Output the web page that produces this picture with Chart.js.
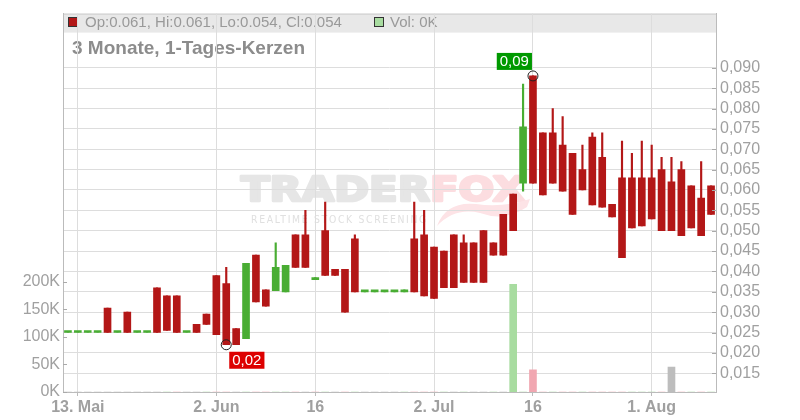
<!DOCTYPE html>
<html>
<head>
<meta charset="utf-8">
<script src="https://cdn.jsdelivr.net/npm/chart.js@4.4.0/dist/chart.umd.min.js"></script>
<style>
    body { margin: 0; background: #fff; }
    #wrap { width: 800px; height: 420px; }
</style>
</head>
<body>
<div id="wrap"><canvas id="chart"></canvas></div>
<script>
// Handelstage (12.05. - 11.08.)
const dates = [
    '12.05.', '13.05.', '14.05.', '15.05.', '16.05.', '19.05.', '20.05.', '21.05.', '22.05.', '23.05.',
    '26.05.', '27.05.', '28.05.', '29.05.', '30.05.', '02.06.', '03.06.', '04.06.', '05.06.', '06.06.',
    '09.06.', '10.06.', '11.06.', '12.06.', '13.06.', '16.06.', '17.06.', '18.06.', '19.06.', '20.06.',
    '23.06.', '24.06.', '25.06.', '26.06.', '27.06.', '30.06.', '01.07.', '02.07.', '03.07.', '04.07.',
    '07.07.', '08.07.', '09.07.', '10.07.', '11.07.', '14.07.', '15.07.', '16.07.', '17.07.', '18.07.',
    '21.07.', '22.07.', '23.07.', '24.07.', '25.07.', '28.07.', '29.07.', '30.07.', '31.07.', '01.08.',
    '04.08.', '05.08.', '06.08.', '07.08.', '08.08.', '11.08.'
];
const opens = [
    0.025, 0.025, 0.025, 0.025, 0.031, 0.025, 0.030, 0.025, 0.025, 0.036,
    0.034, 0.034, 0.025, 0.027, 0.0295, 0.039, 0.037, 0.026, 0.0235, 0.044,
    0.0355, 0.0353, 0.035, 0.049, 0.049, 0.038, 0.050, 0.0405, 0.0405, 0.048,
    0.035, 0.035, 0.035, 0.035, 0.035, 0.048, 0.049, 0.046, 0.045, 0.049,
    0.047, 0.047, 0.050, 0.047, 0.054, 0.059, 0.0617, 0.088, 0.074, 0.074,
    0.071, 0.069, 0.065, 0.073, 0.068, 0.0565, 0.063, 0.063, 0.063, 0.063,
    0.065, 0.062, 0.065, 0.061, 0.058, 0.061
];
const highs = [
    0.025, 0.025, 0.025, 0.025, 0.031, 0.025, 0.030, 0.025, 0.025, 0.036,
    0.034, 0.034, 0.025, 0.027, 0.0295, 0.039, 0.041, 0.026, 0.042, 0.044,
    0.0355, 0.047, 0.0415, 0.049, 0.055, 0.0385, 0.057, 0.0405, 0.0405, 0.049,
    0.035, 0.035, 0.035, 0.035, 0.0355, 0.057, 0.055, 0.046, 0.045, 0.049,
    0.049, 0.047, 0.050, 0.047, 0.054, 0.059, 0.086, 0.088, 0.074, 0.080,
    0.078, 0.069, 0.071, 0.074, 0.074, 0.0565, 0.072, 0.069, 0.072, 0.071,
    0.068, 0.068, 0.067, 0.061, 0.067, 0.061
];
const lows = [
    0.025, 0.025, 0.025, 0.025, 0.025, 0.025, 0.025, 0.025, 0.025, 0.025,
    0.0255, 0.025, 0.025, 0.025, 0.027, 0.0245, 0.022, 0.022, 0.0235, 0.0325,
    0.0315, 0.0353, 0.035, 0.041, 0.041, 0.038, 0.039, 0.039, 0.030, 0.035,
    0.035, 0.035, 0.035, 0.035, 0.035, 0.035, 0.034, 0.0334, 0.036, 0.036,
    0.0373, 0.0373, 0.0373, 0.044, 0.044, 0.050, 0.0597, 0.0617, 0.0588, 0.0617,
    0.0597, 0.054, 0.060, 0.0563, 0.0558, 0.0534, 0.0434, 0.0507, 0.0512, 0.0529,
    0.050, 0.050, 0.0488, 0.0507, 0.0488, 0.054
];
const closes = [
    0.025, 0.025, 0.025, 0.025, 0.025, 0.025, 0.025, 0.025, 0.025, 0.025,
    0.0255, 0.025, 0.025, 0.025, 0.027, 0.0245, 0.022, 0.022, 0.042, 0.0325,
    0.0315, 0.041, 0.0415, 0.041, 0.041, 0.0385, 0.039, 0.039, 0.030, 0.035,
    0.035, 0.035, 0.035, 0.035, 0.0355, 0.035, 0.034, 0.0334, 0.036, 0.036,
    0.0373, 0.0373, 0.0373, 0.044, 0.044, 0.050, 0.0755, 0.0617, 0.0588, 0.0617,
    0.0597, 0.054, 0.060, 0.0563, 0.0558, 0.0534, 0.0434, 0.0507, 0.0512, 0.0529,
    0.050, 0.050, 0.0488, 0.0507, 0.0488, 0.054
];
const volumes = [
    0, 0, 0, 0, 0, 0, 0, 0, 0, 0,
    0, 0, 0, 0, 0, 0, 0, 0, 0, 0,
    0, 0, 0, 0, 0, 0, 0, 0, 0, 0,
    0, 0, 0, 0, 0, 0, 0, 0, 0, 0,
    0, 0, 0, 0, 0, 195000, 0, 40000, 0, 0,
    0, 0, 0, 0, 0, 0, 0, 0, 0, 0,
    0, 45000, 0, 0, 0, 0
];

// Achsenbeschriftung
const tickDates = ['13.05.', '02.06.', '16.06.', '02.07.', '16.07.', '01.08.'];
const tickLabels = ['13. Mai', '2. Jun', '16', '2. Jul', '16', '1. Aug'];
const priceTicks = [0.015, 0.020, 0.025, 0.030, 0.035, 0.040, 0.045, 0.050, 0.055,
    0.060, 0.065, 0.070, 0.075, 0.080, 0.085, 0.090];
const volumeTicks = [0, 50000, 100000, 150000, 200000];

const RED = '#b31717';
const GREEN = '#49ad33';

const candleColors = opens.map((o, i) => closes[i] >= o ? GREEN : RED);
const volumeColors = closes.map((c, i) => {
    if (i === 0 || c === closes[i - 1]) return '#bdbdbd';
    return c > closes[i - 1] ? '#a8dca0' : '#f1a7b1';
});

function fmtPrice(v, digits) {
    return v.toFixed(digits).replace('.', ',');
}

function tickLabelFor(idx) {
    let k = tickDates.indexOf(dates[idx]);
    return k >= 0 ? tickLabels[k] : '';
}

const decorPlugin = {
    id: 'decor',
    beforeDraw(chart) {
        const ctx = chart.ctx;
        const area = chart.chartArea;
        ctx.save();
        // Kopfzeile
        ctx.fillStyle = '#e8e8e8';
        ctx.fillRect(area.left, area.top, area.right - area.left, 19);
        ctx.strokeStyle = '#cccccc';
        ctx.lineWidth = 1;
        ctx.beginPath();
        ctx.moveTo(area.left, area.top + 0.5);
        ctx.lineTo(area.right, area.top + 0.5);
        ctx.stroke();

        let last = opens.length - 1;
        ctx.fillStyle = candleColors[last];
        ctx.fillRect(68, 17, 9, 9);
        ctx.strokeStyle = '#333';
        ctx.strokeRect(68.5, 17.5, 9, 9);
        ctx.fillStyle = '#a8dca0';
        ctx.fillRect(374, 17, 9, 9);
        ctx.strokeRect(374.5, 17.5, 9, 9);

        ctx.font = '15px "Liberation Sans", Arial, sans-serif';
        ctx.fillStyle = '#999';
        ctx.textBaseline = 'alphabetic';
        ctx.fillText('Op:' + opens[last].toFixed(3) + ', Hi:' + highs[last].toFixed(3) +
            ', Lo:' + lows[last].toFixed(3) + ', Cl:' + closes[last].toFixed(3), 85, 27);
        ctx.fillText('Vol: ' + Math.round(volumes[last] / 1000) + 'K', 390, 27);

        ctx.font = 'bold 19px "Liberation Sans", Arial, sans-serif';
        ctx.fillStyle = '#8c8c8c';
        ctx.fillText('3 Monate, 1-Tages-Kerzen', 72, 54);

        // Wasserzeichen
        ctx.font = 'bold 33px "DejaVu Sans", sans-serif';
        ctx.lineJoin = 'round';
        ctx.lineWidth = 2.5;
        let w1 = ctx.measureText('TRADER').width;
        let w2 = ctx.measureText('FOX').width;
        let sx = 284 / (w1 + w2);
        ctx.translate(241, 201);
        ctx.scale(sx, 1);
        ctx.fillStyle = ctx.strokeStyle = '#e6e6e6';
        ctx.fillText('TRADER', 0, 0);
        ctx.strokeText('TRADER', 0, 0);
        ctx.fillStyle = ctx.strokeStyle = '#fcdde0';
        ctx.fillText('FOX', w1, 0);
        ctx.strokeText('FOX', w1, 0);
        ctx.setTransform(1, 0, 0, 1, 0, 0);

        // Fuchsschweif
        ctx.fillStyle = '#fde3e6';
        ctx.beginPath();
        ctx.moveTo(437, 226);
        ctx.quadraticCurveTo(446, 201, 476, 204);
        ctx.quadraticCurveTo(503, 208, 530, 199);
        ctx.lineTo(527, 207);
        ctx.quadraticCurveTo(505, 222, 480, 213);
        ctx.quadraticCurveTo(455, 207, 437, 226);
        ctx.fill();

        ctx.font = '11px "DejaVu Sans", sans-serif';
        ctx.letterSpacing = '2px';
        let ws = ctx.measureText('REALTIME STOCK SCREENING').width;
        ctx.translate(251, 223);
        ctx.scale(177 / ws, 1);
        ctx.fillStyle = '#e0e0e0';
        ctx.fillText('REALTIME STOCK SCREENING', 0, 0);
        ctx.letterSpacing = '0px';
        ctx.restore();
    },
    afterDraw(chart) {
        const ctx = chart.ctx;
        const area = chart.chartArea;
        const x = chart.scales.x;
        const yp = chart.scales.yPrice;
        const yv = chart.scales.yVol;
        ctx.save();
        ctx.strokeStyle = '#aaaaaa';
        ctx.lineWidth = 1;
        ctx.beginPath();
        priceTicks.forEach(v => {
            let py = Math.round(yp.getPixelForValue(v)) + 0.5;
            ctx.moveTo(area.right - 4, py);
            ctx.lineTo(area.right, py);
        });
        volumeTicks.forEach(v => {
            let py = Math.round(yv.getPixelForValue(v)) + 0.5;
            ctx.moveTo(area.left, py);
            ctx.lineTo(area.left + 4, py);
        });
        ctx.stroke();

        // Tief / Hoch markieren
        let lo = lows.indexOf(Math.min(...lows));
        let hi = highs.indexOf(Math.max(...highs));
        let marks = [
            {i: lo, v: lows[lo], color: '#dd0000', below: true},
            {i: hi, v: highs[hi], color: '#009900', below: false}
        ];
        ctx.font = '15px "Liberation Sans", Arial, sans-serif';
        marks.forEach(m => {
            let px = x.getPixelForValue(m.i);
            let py = yp.getPixelForValue(m.v);
            ctx.strokeStyle = '#222';
            ctx.beginPath();
            ctx.arc(px, py, 5, 0, Math.PI * 2);
            ctx.stroke();
            let txt = fmtPrice(m.v, 2);
            let tw = ctx.measureText(txt).width + 6;
            let bx = m.below ? px + 3 : px - 1 - tw;
            let by = m.below ? py + 7 : py - 23;
            ctx.fillStyle = m.color;
            ctx.fillRect(bx, by, tw, 17);
            ctx.fillStyle = '#fff';
            ctx.textBaseline = 'middle';
            ctx.fillText(txt, bx + 3, by + 9);
        });
        ctx.restore();
    }
};

new Chart(document.getElementById('chart'), {
    type: 'bar',
    data: {
        labels: dates,
        datasets: [{
            label: 'Kerzen',
            data: opens.map((o, i) => [o, closes[i]]),
            backgroundColor: candleColors,
            yAxisID: 'yPrice',
            barThickness: 7,
            minBarLength: 2,
            grouped: false
        }, {
            label: 'Dochte',
            data: lows.map((l, i) => [l, highs[i]]),
            backgroundColor: candleColors,
            yAxisID: 'yPrice',
            barThickness: 1.5,
            grouped: false
        }, {
            label: 'Volumen',
            data: volumes,
            backgroundColor: volumeColors,
            yAxisID: 'yVol',
            barThickness: 7,
            grouped: false
        }]
    },
    options: {
        responsive: true,
        maintainAspectRatio: false,
        animation: false,
        layout: {
            padding: {top: 11, left: 0, right: 0, bottom: 0}
        },
        plugins: {
            legend: {display: false},
            tooltip: {enabled: false}
        },
        scales: {
            x: {
                offset: true,
                grid: {
                    offset: false,
                    color: ctx => tickLabelFor(ctx.index) ? '#dddddd' : 'rgba(0,0,0,0)',
                    tickColor: ctx => tickLabelFor(ctx.index) ? '#bbbbbb' : 'rgba(0,0,0,0)',
                    tickLength: 4
                },
                border: {color: '#bbbbbb'},
                ticks: {
                    autoSkip: false,
                    maxRotation: 0,
                    padding: 2,
                    color: '#a0a0a0',
                    font: {family: '"Liberation Sans", Arial, sans-serif', size: 16, weight: 'bold'},
                    callback: (val, idx) => tickLabelFor(idx)
                },
                afterFit: s => { s.height = 28; }
            },
            yPrice: {
                position: 'right',
                min: 0.0104,
                max: 0.1033,
                afterBuildTicks: s => { s.ticks = priceTicks.map(v => ({value: v})); },
                grid: {color: '#dddddd', drawTicks: false},
                border: {color: '#bbbbbb'},
                ticks: {
                    padding: 4,
                    color: '#a0a0a0',
                    font: {family: '"Liberation Sans", Arial, sans-serif', size: 16},
                    callback: v => fmtPrice(v, 3)
                },
                afterFit: s => { s.width = 84; }
            },
            yVol: {
                position: 'left',
                min: 0,
                max: 685000,
                afterBuildTicks: s => { s.ticks = volumeTicks.map(v => ({value: v})); },
                grid: {display: false, drawTicks: false},
                border: {color: '#bbbbbb'},
                ticks: {
                    padding: 3,
                    color: '#a0a0a0',
                    font: {family: '"Liberation Sans", Arial, sans-serif', size: 16},
                    callback: v => (v / 1000) + 'K'
                },
                afterFit: s => { s.width = 63; }
            }
        }
    },
    plugins: [decorPlugin]
});
</script>
</body>
</html>
